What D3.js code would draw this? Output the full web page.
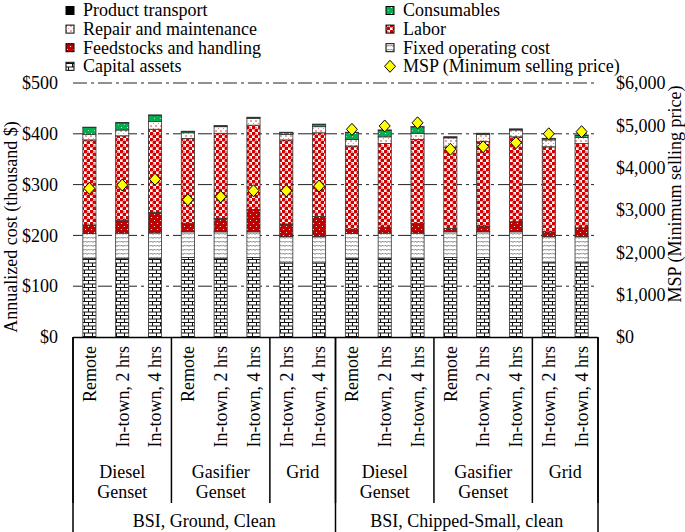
<!DOCTYPE html>
<html><head><meta charset="utf-8">
<script src="https://cdn.jsdelivr.net/npm/d3@7"></script>
<style>body{margin:0;background:#fff}svg{display:block}text{font-family:"Liberation Serif","Times New Roman",serif;fill:#000}</style>
</head><body><svg id="c" width="685" height="532"></svg>
<script>
const categories = ["Remote","In-town, 2 hrs","In-town, 4 hrs","Remote","In-town, 2 hrs","In-town, 4 hrs","In-town, 2 hrs","In-town, 4 hrs",
                    "Remote","In-town, 2 hrs","In-town, 4 hrs","Remote","In-town, 2 hrs","In-town, 4 hrs","In-town, 2 hrs","In-town, 4 hrs"];
const subgroupLabels = [["Diesel","Genset"],["Gasifier","Genset"],["Grid"],["Diesel","Genset"],["Gasifier","Genset"],["Grid"]];
const subgroupSizes = [3,3,2,3,3,2];
const groupLabels = ["BSI, Ground, Clean","BSI, Chipped-Small, clean"];
const groupSizes = [8,8];

const seriesNames = ["Capital assets","Fixed operating cost","Feedstocks and handling","Labor","Repair and maintenance","Consumables","Product transport"];
const capitalAssets = [155,155,155,156.5,155,156.5,146,146,155,155,155,156.5,156.5,156.5,147,147];
const fixedOperating = [49,49.5,50,50.5,52,50.5,51.5,51.5,49,49.5,49.5,50.5,50.5,50.5,50.5,50.5];
const feedstocks = [16.5,25.5,40,17,26.5,44,25,39.5,8.5,11.5,19.5,7,11.5,20,9.5,17.5];
const labor = [167.5,166,164,167,167.5,166,165.5,165,163.5,165,165,160,166,167,167.5,166];
const repair = [11,11.5,15,11,13,13.5,11,12,13,13,12,18,14.5,13.5,13.5,12];
const consumables = [13.5,14,12.5,2.5,1.5,1.5,3.5,4.5,13.5,13,12.5,1.5,1.5,1.5,2.5,4];
const productTransport = [0.6,0.6,0.6,0.6,0.6,0.6,0.6,0.6,0.6,0.6,0.6,0.6,0.6,0.6,0.6,0.6];
const msp = [3510,3590,3725,3240,3315,3455,3455,3565,4905,4985,5060,4435,4495,4590,4800,4850];

const leftTicks = [0,100,200,300,400,500];
const rightTicks = [0,1000,2000,3000,4000,5000,6000];

const FS = 18;
const svg = d3.select("#c");
const defs = svg.append("defs");
function pat(id,w,h,draw){const p=defs.append("pattern").attr("id",id).attr("patternUnits","userSpaceOnUse").attr("width",w).attr("height",h);draw(p);}
pat("pCap",8,7,p=>{p.append("rect").attr("width",8).attr("height",7).attr("fill","#fff");
  p.append("path").attr("d","M0,0.5H8M0,4H8M0.5,0.5V4M4.5,4V7").attr("stroke","#111").attr("stroke-width",1).attr("fill","none");});
pat("pFix",6,4,p=>{p.append("rect").attr("width",6).attr("height",4).attr("fill","#fff");
  p.append("path").attr("d","M0,2.5 L1.5,1 L3,2.5 L4.5,1 L6,2.5").attr("stroke","#666").attr("stroke-width",0.9).attr("fill","none");});
pat("pFeed",6,6,p=>{p.append("rect").attr("width",6).attr("height",6).attr("fill","#c00000");
  p.append("circle").attr("cx",1.5).attr("cy",1.5).attr("r",0.6).attr("fill","#fff");
  p.append("circle").attr("cx",4.5).attr("cy",4.5).attr("r",0.6).attr("fill","#fff");});
pat("pLab",6,6,p=>{p.append("rect").attr("width",6).attr("height",6).attr("fill","#fff");
  [[1.5,1.5],[4.5,4.5]].forEach(c=>p.append("circle").attr("cx",c[0]).attr("cy",c[1]).attr("r",2.0).attr("fill","#d00000"));
  p.append("rect").attr("x",4).attr("y",1).attr("width",1).attr("height",1).attr("fill","#f0a0a0");});
pat("pRep",5,5,p=>{p.append("rect").attr("width",5).attr("height",5).attr("fill","#fff");
  p.append("circle").attr("cx",1).attr("cy",1).attr("r",0.7).attr("fill","#d00000");
  p.append("circle").attr("cx",3.5).attr("cy",3.5).attr("r",0.5).attr("fill","#e06060");});
pat("pCon",6,6,p=>{p.append("rect").attr("width",6).attr("height",6).attr("fill","#00b050");
  p.append("circle").attr("cx",1.5).attr("cy",1.5).attr("r",0.6).attr("fill","#fff");
  p.append("circle").attr("cx",4.5).attr("cy",4.5).attr("r",0.5).attr("fill","#c0f0d0");});
const fills = ["url(#pCap)","url(#pFix)","url(#pFeed)","url(#pLab)","url(#pRep)","url(#pCon)","#000"];

const L=73, R=598, T=83, B=337;
const x = d3.scaleBand().domain(d3.range(categories.length)).range([L,R]).paddingInner(0.6).paddingOuter(0.3);
const y = d3.scaleLinear().domain([0,500]).range([B,T]);
const y2 = d3.scaleLinear().domain([0,6000]).range([B,T]);
const step = x.step();

svg.append("g").selectAll("line").data(leftTicks.filter(d=>d>0)).join("line")
  .attr("x1",L).attr("x2",R).attr("y1",d=>y(d)).attr("y2",d=>y(d))
  .attr("stroke","#222").attr("stroke-width",1).attr("stroke-dasharray","14,4,3,4");

const yAxis = d3.axisLeft(y).tickValues(leftTicks).tickSize(0).tickPadding(0).tickFormat(d=>"$"+d);
const gy = svg.append("g").attr("transform",`translate(${L-15},0)`).call(yAxis);
gy.select(".domain").remove();
gy.selectAll("text").attr("font-size",FS).attr("fill","#000").attr("dy","0.32em");
const yAxis2 = d3.axisRight(y2).tickValues(rightTicks).tickSize(0).tickPadding(0).tickFormat(d=>"$"+d3.format(",")(d));
const gy2 = svg.append("g").attr("transform",`translate(${R+18},0)`).call(yAxis2);
gy2.select(".domain").remove();
gy2.selectAll("text").attr("font-size",FS).attr("fill","#000").attr("dy","0.32em");

const rows = categories.map((c,i)=>({i, v:[capitalAssets[i],fixedOperating[i],feedstocks[i],labor[i],repair[i],consumables[i],productTransport[i]]}));
const stack = d3.stack().keys(d3.range(7)).value((d,k)=>d.v[k]);
const layers = stack(rows);
svg.append("g").selectAll("g").data(layers).join("g").attr("fill",(d,k)=>fills[k])
  .selectAll("rect").data(d=>d).join("rect")
  .attr("x",d=>x(d.data.i)).attr("width",x.bandwidth())
  .attr("y",d=>y(d[1])).attr("height",d=>Math.max(0,y(d[0])-y(d[1])))
  .attr("stroke","#333").attr("stroke-width",0.8);

const dia = (cx,cy)=>`M${cx},${cy-6}L${cx+5.5},${cy}L${cx},${cy+6}L${cx-5.5},${cy}Z`;
svg.append("g").selectAll("path").data(msp).join("path")
  .attr("d",(d,i)=>dia(x(i)+x.bandwidth()/2,y2(d)))
  .attr("fill","#ffff00").attr("stroke","#000").attr("stroke-width",1);

svg.append("line").attr("x1",L).attr("x2",R).attr("y1",B+0.5).attr("y2",B+0.5).attr("stroke","#000").attr("stroke-width",1.5);
svg.append("g").selectAll("text").data(categories).join("text")
  .attr("transform",(d,i)=>`translate(${x(i)+x.bandwidth()/2},346) rotate(-90)`)
  .attr("text-anchor","end").attr("dy","0.35em").attr("font-size",FS).text(d=>d);
let acc=0;
const subBounds=[0];
subgroupSizes.forEach(s=>{acc+=s;subBounds.push(acc);});
svg.append("g").selectAll("line").data(subBounds).join("line")
  .attr("x1",d=>L+d*step).attr("x2",d=>L+d*step).attr("y1",B).attr("y2",503)
  .attr("stroke","#000").attr("stroke-width",1.5);
subgroupLabels.forEach((lab,j)=>{
  const cx=L+(subBounds[j]+subBounds[j+1])/2*step;
  lab.forEach((t,k)=>svg.append("text").attr("x",cx).attr("y",472+k*20).attr("dy","0.35em").attr("text-anchor","middle").attr("font-size",FS).text(t));
});
let acc2=0; const gBounds=[0]; groupSizes.forEach(s=>{acc2+=s;gBounds.push(acc2);});
svg.append("g").selectAll("line").data(gBounds).join("line")
  .attr("x1",d=>L+d*step).attr("x2",d=>L+d*step).attr("y1",B).attr("y2",532)
  .attr("stroke","#000").attr("stroke-width",1.5);
groupLabels.forEach((t,j)=>{
  const cx=L+(gBounds[j]+gBounds[j+1])/2*step;
  svg.append("text").attr("x",cx).attr("y",521).attr("dy","0.35em").attr("text-anchor","middle").attr("font-size",FS).text(t);
});

svg.append("text").attr("transform","translate(11,227) rotate(-90)").attr("text-anchor","middle").attr("dy","0.35em").attr("font-size",FS).text("Annualized cost (thousand $)");
svg.append("text").attr("transform","translate(675,194) rotate(-90)").attr("text-anchor","middle").attr("dy","0.35em").attr("font-size",FS).text("MSP (Minimum selling price)");

const legendItems = [
  {name:"Product transport",k:6,col:0,row:0},{name:"Consumables",k:5,col:1,row:0},
  {name:"Repair and maintenance",k:4,col:0,row:1},{name:"Labor",k:3,col:1,row:1},
  {name:"Feedstocks and handling",k:2,col:0,row:2},{name:"Fixed operating cost",k:1,col:1,row:2},
  {name:"Capital assets",k:0,col:0,row:3},{name:"MSP (Minimum selling price)",k:-1,col:1,row:3}];
const colX=[66,386];
const lg = svg.append("g");
legendItems.forEach(it=>{
  const cy = 10.5+it.row*18.6, sx=colX[it.col];
  if(it.k>=0) lg.append("rect").attr("x",sx).attr("y",cy-4).attr("width",8).attr("height",8).attr("fill",fills[it.k]).attr("stroke","#000").attr("stroke-width",1);
  else lg.append("path").attr("d",dia(sx+4,cy)).attr("fill","#ffff00").attr("stroke","#000");
  lg.append("text").attr("x",sx+17).attr("y",cy).attr("dy","0.33em").attr("font-size",FS).text(it.name);
});
</script></body></html>
